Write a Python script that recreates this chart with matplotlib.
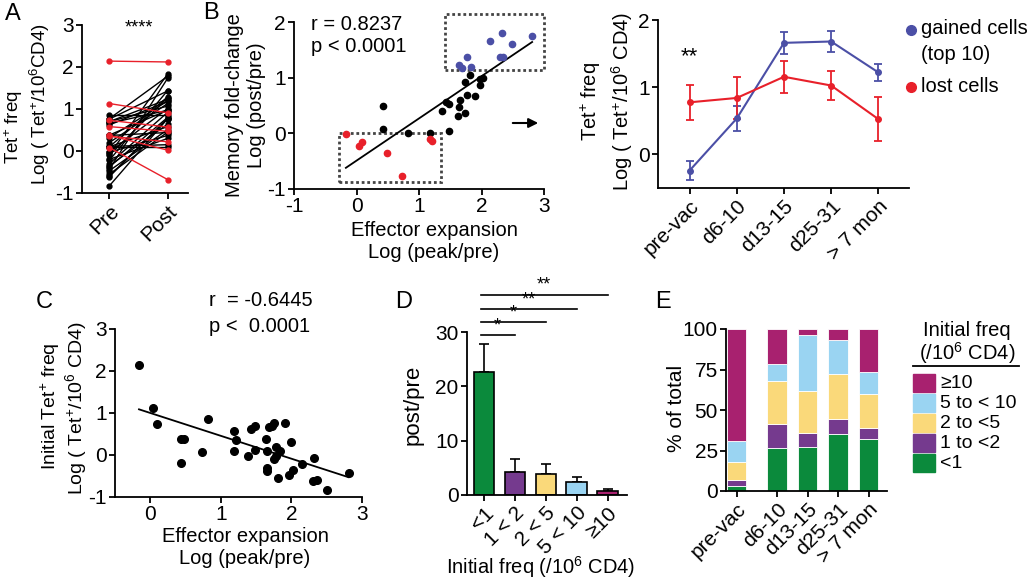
import numpy as np
import matplotlib
matplotlib.use("Agg")
import matplotlib.pyplot as plt
from matplotlib.patches import Rectangle

plt.rcParams['font.family'] = ['Liberation Sans', 'DejaVu Sans']
plt.rcParams['mathtext.fontset'] = 'custom'
plt.rcParams['mathtext.rm'] = 'Liberation Sans'
plt.rcParams['mathtext.it'] = 'Liberation Sans:italic'
plt.rcParams['mathtext.bf'] = 'Liberation Sans:bold'
plt.rcParams['axes.unicode_minus'] = False

# ---------------- data ----------------
# Panel A: pre / post log frequencies, red = lost cells
a_pre = [2.14, 1.13, 0.73, 0.37, 0.08, 0.58, 0.35,
         0.37, -0.20, 0.85, 0.09, -0.03, 0.62, 0.70, 0.11, 0.38, 0.10, -0.30, -0.38,
         0.66, 0.70, 0.77, 0.20, -0.10, -0.03, 0.10, -0.55, 0.76, 0.32, -0.47, -0.35,
         -0.22, -0.08, -0.61, -0.60, -0.83, -0.43]
a_post = [2.12, 0.91, 0.57, 0.02, -0.68, 0.47, 0.22,
          0.44, 0.30, 0.85, 0.09, 0.37, 1.18, 1.23, 0.15, 0.97, 0.58, 0.92, 0.80,
          0.97, 1.07, 1.78, 1.13, 1.27, 1.01, 1.29, 0.45, 1.43, 1.19, 0.51, 0.64,
          1.44, 1.83, 0.77, 0.78, 0.77, 1.73]
a_red = [True] * 7 + [False] * 30

# Panel B: effector expansion vs memory fold-change
b_x = [1.64, 1.68, 1.77, 1.83, 2.13, 2.32, 2.30, 2.35, 2.49, 2.81,
       0.42, 0.43, 0.82, 1.18, 1.37, 1.43, 1.48, 1.48, 1.65, 1.64, 1.62, 1.74, 1.77,
       1.74, 1.81, 1.90, 1.98, 1.98, 2.02,
       -0.17, 0.04, 0.09, 0.48, 0.73, 1.18, 1.21]
b_y = [1.22, 1.18, 1.37, 1.19, 1.66, 1.80, 1.38, 1.38, 1.60, 1.75,
       0.50, 0.07, 0.00, 0.00, 0.40, 0.56, 0.53, 0.04, 0.59, 0.48, 0.31, 0.37, 0.69,
       0.93, 1.04, 0.67, 0.87, 0.98, 0.99,
       -0.02, -0.22, -0.16, -0.35, -0.77, -0.11, -0.13]
b_group = ['gained'] * 10 + ['other'] * 19 + ['lost'] * 7

# Panel C: effector expansion vs initial frequency
c_x = [-0.16, 0.04, 0.09, 0.43, 0.48, 0.43, 0.73, 0.82, 1.19, 1.21, 1.19, 1.38,
       1.43, 1.48, 1.49, 1.64, 1.65, 1.65, 1.65, 1.68, 1.75, 1.73, 1.78, 1.75,
       1.78, 1.84, 1.81, 1.91, 1.99, 1.97, 2.02, 2.15, 2.32, 2.30, 2.36, 2.50, 2.81]
c_y = [2.14, 1.13, 0.73, 0.37, 0.37, -0.20, 0.08, 0.85, 0.58, 0.35, 0.09, -0.03,
       0.62, 0.70, 0.11, 0.38, 0.10, -0.30, -0.38, 0.66, 0.77, 0.70, 0.20, -0.10,
       -0.03, 0.10, -0.55, 0.76, 0.32, -0.47, -0.35, -0.22, -0.08, -0.61, -0.60,
       -0.83, -0.43]

# Panel B right: kinetics
timepoints = ['pre-vac', 'd6-10', 'd13-15', 'd25-31', '> 7 mon']
gained_mean = [-0.24, 0.535, 1.66, 1.68, 1.22]
gained_err = [0.135, 0.19, 0.16, 0.15, 0.125]
lost_mean = [0.775, 0.84, 1.155, 1.025, 0.525]
lost_err = [0.26, 0.31, 0.235, 0.21, 0.33]

# Panel D
d_cats = ['<1', '1 < 2', '2 < 5', '5 < 10', '\u226510']
d_vals = [22.7, 4.2, 3.9, 2.4, 0.8]
d_err = [5.0, 2.4, 1.8, 0.85, 0.24]
d_sig = ['*', '*', '**', '**']

# Panel E
e_cats = ['pre-vac', 'd6-10', 'd13-15', 'd25-31', '> 7 mon']
e_groups = ['<1', '1 to <2', '2 to <5', '5 to < 10', '\u226510']
e_lt1 = [3.1, 26.5, 27.0, 35.0, 32.1]
e_1to2 = [3.5, 14.9, 9.0, 9.7, 6.8]
e_2to5 = [11.3, 26.3, 25.7, 27.5, 21.0]
e_5to10 = [13.2, 10.5, 34.8, 20.8, 13.4]
e_ge10 = [68.9, 21.8, 3.5, 7.0, 26.7]

# colours
RED = '#e8202a'
BLUE = '#4b4fa6'
C_GREEN = '#0b8a3c'
C_PURPLE = '#753a8e'
C_YELLOW = '#fad97a'
C_LBLUE = '#9ad4f2'
C_MAG = '#a8216f'
group_colors = [C_GREEN, C_PURPLE, C_YELLOW, C_LBLUE, C_MAG]

W, H = 1031, 580
fig = plt.figure(figsize=(W / 100, H / 100), dpi=100)

TICK = 15
FS = 14.5

def ax_px(l, r, t, b):
    return fig.add_axes([l / W, 1 - b / H, (r - l) / W, (b - t) / H])

def style(ax):
    for s in ['top', 'right']:
        ax.spines[s].set_visible(False)
    for s in ['left', 'bottom']:
        ax.spines[s].set_linewidth(1.3)
    ax.tick_params(direction='out', length=4, width=1.3, labelsize=TICK, pad=2)

def ftext(x, y, s, **kw):
    return fig.text(x / W, 1 - y / H, s, **kw)

def ylab(x, y, s, size=FS, ls=1.2):
    ftext(x, y, s, rotation=90, ha='center', va='center', fontsize=size, linespacing=ls,
          multialignment='center')

def xlab(x, y, s, size=FS, ls=1.2):
    ftext(x, y, s, ha='center', va='center', fontsize=size, linespacing=ls,
          multialignment='center')

YL_A = 'Tet$^{+}$ freq\nLog ( Tet$^{+}$/10$^{6}$ CD4)'

# ---------------- Panel A ----------------
axA = ax_px(82, 188, 25, 193)
style(axA)
for pre, post, red in sorted(zip(a_pre, a_post, a_red), key=lambda t: t[2]):
    col = RED if red else 'black'
    axA.plot([0, 1], [pre, post], '-o', color=col, ms=3.5, lw=1.0, zorder=3 if red else 2)
axA.set_xlim(-0.47, 1.35)
axA.set_ylim(-1, 3)
axA.set_yticks([-1, 0, 1, 2, 3])
axA.set_xticks([0, 1])
axA.set_xticklabels(['Pre', 'Post'], rotation=45, ha='right', rotation_mode='anchor')
ylab(14, 127, 'Tet$^{+}$ freq', size=13.5)
ylab(40, 104, 'Log ( Tet$^{+}$/10$^{6}$CD4)', size=13.5)
axA.text(0.5, 2.92, '****', ha='center', va='center', fontsize=13)

# ---------------- Panel B scatter ----------------
axB = ax_px(294, 544, 22, 189)
style(axB)
gcol = {'gained': BLUE, 'other': 'black', 'lost': RED}
for x, y, g in zip(b_x, b_y, b_group):
    axB.plot(x, y, 'o', color=gcol[g], ms=4.5, zorder=3)
bx = np.array(b_x); by = np.array(b_y)
k, c0 = np.polyfit(bx, by, 1)
xx = np.array([bx.min(), bx.max()])
axB.plot(xx, k * xx + c0, color='black', lw=1.3)
axB.set_xlim(-1, 3)
axB.set_ylim(-1, 2)
axB.set_xticks([-1, 0, 1, 2, 3])
axB.set_yticks([-1, 0, 1, 2])
xlab(434, 241, 'Effector expansion\nLog (peak/pre)')
ylab(246, 105, 'Memory fold-change\nLog (post/pre)')
ftext(311, 24, 'r = 0.8237', fontsize=FS, va='center')
ftext(311, 47, 'p < 0.0001', fontsize=FS, va='center')
box_kw = dict(fill=False, ls=(0, (1, 1)), lw=2.0, edgecolor='#444444', clip_on=False)
axB.add_patch(Rectangle((1.41, 1.13), 1.59, 1.01, **box_kw))
axB.add_patch(Rectangle((-0.28, -0.88), 1.63, 0.88, **box_kw))
axB.annotate('', xy=(541, H - 123), xytext=(510, H - 123), xycoords='figure pixels',
             textcoords='figure pixels', annotation_clip=False,
             arrowprops=dict(arrowstyle='-|>', lw=1.5, color='black', mutation_scale=14))

# ---------------- Panel B kinetics ----------------
axK = ax_px(658, 909, 20, 188)
style(axK)
xk = np.arange(len(timepoints))
axK.errorbar(xk, gained_mean, yerr=gained_err, color=BLUE, marker='o', ms=4, lw=1.5,
             capsize=3, capthick=1.3, elinewidth=1.3)
axK.errorbar(xk, lost_mean, yerr=lost_err, color=RED, marker='o', ms=4, lw=1.5,
             capsize=3, capthick=1.3, elinewidth=1.3)
axK.set_xlim(-0.67, 4.65)
axK.set_ylim(-0.5, 2)
axK.set_yticks([0, 1, 2])
axK.set_xticks(xk)
axK.set_xticklabels(timepoints, rotation=45, ha='right', rotation_mode='anchor')
ylab(607, 101, YL_A, ls=1.3)
axK.text(0, 1.46, '**', ha='center', va='center', fontsize=16)
fig.add_artist(plt.Line2D([911 / W], [1 - 30 / H], marker='o', color=BLUE, ms=7,
                          transform=fig.transFigure))
fig.add_artist(plt.Line2D([911 / W], [1 - 87 / H], marker='o', color=RED, ms=7,
                          transform=fig.transFigure))
ftext(921, 29, 'gained cells', fontsize=FS, va='center')
ftext(921, 54, '(top 10)', fontsize=FS, va='center')
ftext(921, 87, 'lost cells', fontsize=FS, va='center')

# ---------------- Panel C ----------------
axC = ax_px(115, 362, 329, 497)
style(axC)
axC.plot(c_x, c_y, 'o', color='black', ms=5.5)
cx = np.array(c_x); cy = np.array(c_y)
k2, c2 = np.polyfit(cx, cy, 1)
xx2 = np.array([cx.min(), cx.max()])
axC.plot(xx2, k2 * xx2 + c2, color='black', lw=1.3)
axC.set_xlim(-0.5, 3)
axC.set_ylim(-1, 3)
axC.set_xticks([0, 1, 2, 3])
axC.set_yticks([-1, 0, 1, 2, 3])
xlab(245, 548, 'Effector expansion\nLog (peak/pre)')
ylab(50, 406, 'Initial Tet$^{+}$ freq', size=14)
ylab(76, 408, 'Log ( Tet$^{+}$/10$^{6}$ CD4)', size=14)
ftext(209, 301, 'r  = -0.6445', fontsize=FS, va='center')
ftext(209, 326, 'p <  0.0001', fontsize=FS, va='center')

# ---------------- Panel D ----------------
axD = ax_px(467, 627, 332, 495)
style(axD)
xd = np.arange(len(d_cats))
axD.bar(xd, d_vals, width=0.65, color=group_colors, edgecolor='black', lw=1.2, zorder=2)
axD.errorbar(xd, d_vals, yerr=[np.zeros(len(d_vals)), d_err], fmt='none', ecolor='black',
             elinewidth=1.2, capsize=3.5, capthick=1.2, zorder=1)
axD.set_xlim(-0.54, 4.63)
axD.set_ylim(0, 30)
axD.set_yticks([0, 10, 20, 30])
axD.set_xticks(xd)
axD.set_xticklabels(d_cats, rotation=45, ha='right', rotation_mode='anchor')
ylab(413, 405, 'post/pre', size=16)
xlab(541, 567, 'Initial freq (/10$^{6}$ CD4)')
sig_y = [29.5, 31.9, 34.3, 36.9]
for j, (yy, s) in enumerate(zip(sig_y, d_sig)):
    axD.plot([-0.08, j + 1], [yy, yy], color='black', lw=1.2, clip_on=False)
    axD.text((j + 1) / 2 - 0.05, yy + 0.1, s, ha='center', va='bottom', fontsize=13)

# ---------------- Panel E ----------------
axE = ax_px(726, 887, 329, 491)
style(axE)
xe = np.array([0, 1.31, 2.31, 3.30, 4.30])
bottom = np.zeros(len(e_cats))
for vals, col in zip([e_lt1, e_1to2, e_2to5, e_5to10, e_ge10], group_colors):
    axE.bar(xe, vals, bottom=bottom, width=0.63, color=col, edgecolor='white', lw=0.6)
    bottom += np.array(vals)
axE.set_xlim(-0.35, 4.9)
axE.set_ylim(0, 100)
axE.set_yticks([0, 25, 50, 75, 100])
axE.set_xticks(xe)
axE.set_xticklabels(e_cats, rotation=45, ha='right', rotation_mode='anchor')
ylab(676, 408, '% of total', size=15)

# legend for E
ftext(967, 331, 'Initial freq', fontsize=FS, ha='center', va='center')
ftext(967, 353, '(/10$^{6}$ CD4)', fontsize=FS, ha='center', va='center')
fig.add_artist(plt.Line2D([913 / W, 1019 / W], [1 - 366 / H, 1 - 366 / H], color='black',
                          lw=1.3, transform=fig.transFigure))
for i, (g, col) in enumerate(zip(e_groups[::-1], group_colors[::-1])):
    yc = 383 + 20 * i
    fig.add_artist(Rectangle((913 / W, 1 - (yc + 9) / H), 22 / W, 18 / H, color=col,
                             transform=fig.transFigure))
    ftext(940, yc, g, fontsize=14, va='center')

# panel letters
for lab, x, y in [('A', 5, 14), ('B', 203, 13), ('C', 36, 302), ('D', 395, 302), ('E', 655, 302)]:
    ftext(x, y, lab, fontsize=17, va='center')

fig.savefig('out.png', dpi=100)
